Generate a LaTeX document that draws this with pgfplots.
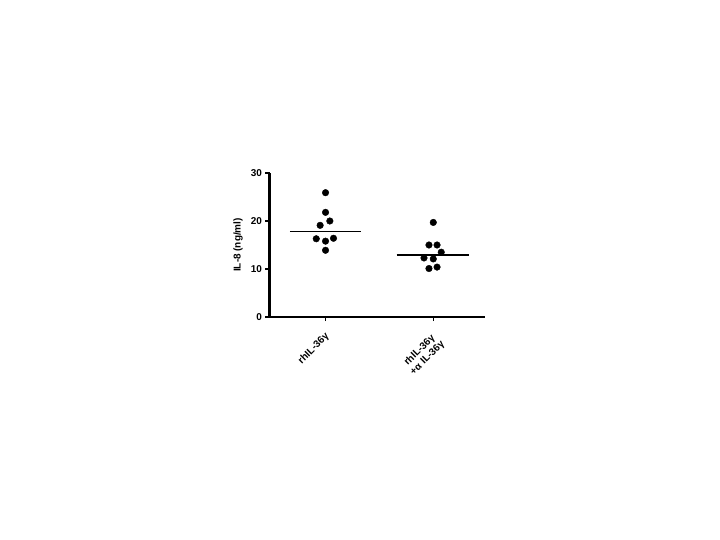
\documentclass[border=0pt]{standalone}
\usepackage{fontspec}
\setmainfont{Liberation Sans}
\usepackage{pgfplots}
\pgfplotsset{compat=1.18}
\begin{document}
\begin{tikzpicture}
\useasboundingbox (-269.5bp,-223bp) rectangle (450.5bp,317bp);
\begin{axis}[
  at={(0bp,0bp)}, anchor=south west,
  scale only axis, width=215.5bp, height=144bp,
  xmin=-0.52, xmax=1.48, ymin=0, ymax=30,
  axis x line*=bottom, axis y line*=left,
  axis line style={line width=2bp, -},
  tick align=outside, major tick length=4bp,
  tick style={line width=1.4bp, black},
  xtick={0,1}, ytick={0,10,20,30},
  xticklabels={rhIL-36γ, {rhIL-36γ\\+α IL-36γ}},
  ticklabel style={font=\fontsize{10}{11}\selectfont\bfseries},
  /pgf/number format/assume math mode=true,
  xticklabel style={rotate=45, anchor=north east, align=center,
    xshift=-5bp, yshift=-3bp},
  ylabel={\bfseries IL-8 (ng/ml)},
  every axis y label/.style={at={(axis description cs:0,0.5)}, xshift=-31.5bp,
    rotate=90, anchor=center, font=\fontsize{10}{12}\selectfont},
  clip=false,
]
% rhIL-36g
\addplot[only marks, mark=*, mark size=3.3bp, black] coordinates {
  (0,25.9) (0,21.8) (-0.05,19.1) (0.04,20.0)
  (-0.086,16.3) (0,15.8) (0.074,16.4) (0,13.9)
};
\addplot[black, line width=1.3bp] coordinates {(-0.33,17.75) (0.33,17.75)};
% rhIL-36g + anti IL-36g
\addplot[only marks, mark=*, mark size=3.3bp, black] coordinates {
  (1,19.7) (0.96,15.0) (1.035,15.0) (1.074,13.5)
  (0.914,12.3) (1,12.1) (0.96,10.1) (1.035,10.4)
};
\addplot[black, line width=1.3bp] coordinates {(0.66,12.9) (1.33,12.9)};
\end{axis}
\end{tikzpicture}
\end{document}
